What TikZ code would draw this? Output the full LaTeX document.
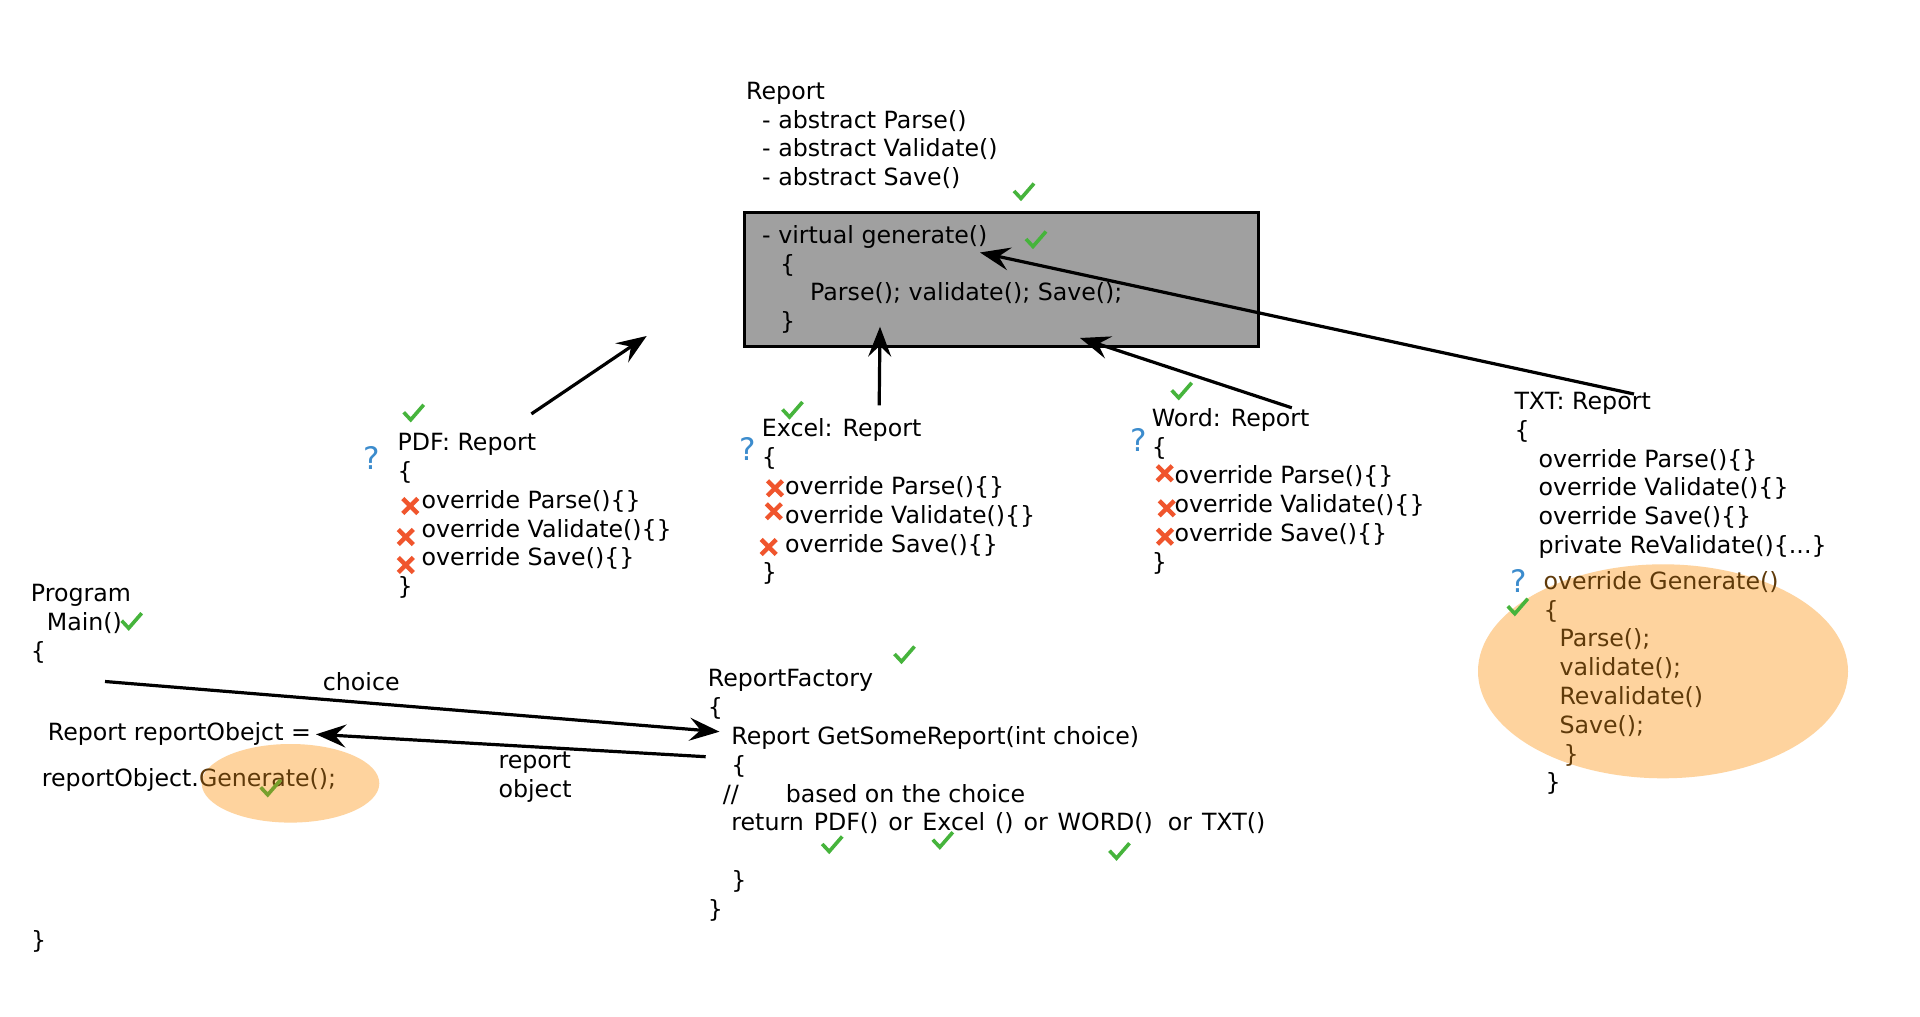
\documentclass[tikz,border=0pt]{standalone}
\usepackage{fontspec}
\setmainfont{DejaVu Sans}
\usetikzlibrary{arrows.meta,shapes.geometric}
\definecolor{chkgreen}{RGB}{70,180,60}
\definecolor{olivechk}{RGB}{120,160,45}
\definecolor{xred}{RGB}{240,85,45}
\definecolor{qblue}{RGB}{60,140,205}
\definecolor{peach}{RGB}{254,211,158}
\definecolor{codebrown}{RGB}{95,58,10}
\definecolor{boxgray}{RGB}{160,160,160}
\newcommand\codefont{\fontsize{23.7}{28.8}\selectfont}
\newcommand\ind[1]{\hspace*{#1pt}}
\begin{document}
\begin{tikzpicture}[x=1pt,y=-1pt,
  txt/.style={anchor=north west, inner sep=0pt, align=left, font=\codefont, yshift=20.16pt},
  qm/.style={anchor=base, inner sep=0pt, text=qblue, font=\fontsize{31}{33}\selectfont},
  peachell/.style={ellipse, fill=peach, draw=none, inner sep=0pt},
  basebox/.style={draw=black, line width=3.5pt, fill=boxgray, inner sep=0pt},
  conn/.style={line width=3.2pt, -{Stealth[length=30pt,width=23pt,inset=11pt]}},
  chk/.pic={\draw[chkgreen, line width=3.6pt] (-10,-1) -- (-3,6.5) -- (10,-8.5);},
  chko/.pic={\draw[olivechk, line width=3.6pt] (-10,-1) -- (-3,6.5) -- (10,-8.5);},
  crs/.pic={\draw[xred, line width=4.4pt] (-7.5,-7.5) -- (7.5,7.5) (-7.5,7.5) -- (7.5,-7.5);}
]
\path[use as bounding box, fill=white] (0,0) rectangle (1920,1017);

% backgrounds
\node[peachell, minimum width=370pt, minimum height=214pt] (txtell) at (1663,671.3) {};
\node[peachell, minimum width=177.6pt, minimum height=78.6pt] (genell) at (290.5,783.3) {};
\node[basebox, minimum width=514pt, minimum height=134pt] (box) at (1001.25,279.5) {};

% abstract Report
\node[txt] (rep) at (746,99) {\strut Report\\ \ind{16}- abstract Parse()\\ \ind{16}- abstract Validate()\\ \ind{16}- abstract Save()};
\node[txt] (virt) at (762,243) {\strut - virtual generate()\\ \ind{18}\{\\ \ind{48}Parse(); validate(); Save();\\ \ind{18}\}};

% subclasses
\node[txt] (pdf) at (397.5,450.5) {\strut PDF: Report\\ \{\\ \ind{24}override Parse()\{\}\\ \ind{24}override Validate()\{\}\\ \ind{24}override Save()\{\}\\ \}};
\node[txt] (xls) at (761.7,436.7) {\strut Excel: Report\\ \{\\ \ind{23.3}override Parse()\{\}\\ \ind{23.3}override Validate()\{\}\\ \ind{23.3}override Save()\{\}\\ \}};
\node[txt] (wrd) at (1151.7,426) {\strut Word: Report\\ \{\\ \ind{22.6}override Parse()\{\}\\ \ind{22.6}override Validate()\{\}\\ \ind{22.6}override Save()\{\}\\ \}};
\node[txt] (txtc) at (1514.3,409.3) {\strut TXT: Report\\ \{\\ \ind{24}override Parse()\{\}\\ \ind{24}override Validate()\{\}\\ \ind{24}override Save()\{\}\\ \ind{24}private ReValidate()\{...\}};
\node[txt, text=codebrown] (gen) at (1543.3,589) {\strut override Generate()\\ \{\\ \ind{16}Parse();\\ \ind{16}validate();\\ \ind{16}Revalidate()\\ \ind{16}Save();\\ \ind{20}\}\\ \ind{2}\textcolor{black}{\}}};

% program
\node[txt] (prog) at (30.7,601.7) {\strut Program\\ \ind{16}Main()\\ \{};
\node[txt] (assign) at (47.7,740) {\strut Report reportObejct =};
\node[txt] (call) at (41.7,786.7) {\strut reportObject.\textcolor{codebrown}{Generate();}};
\node[txt] (progend) at (31,948) {\strut\}};
\node[txt] (lchoice) at (322.7,690) {\strut choice};
\node[txt] (lobj) at (498.4,768) {\strut report\\object};

% factory
\node[txt] (fac) at (707.7,686.7) {\strut ReportFactory\\ \{\\ \ind{23.5}Report GetSomeReport(int choice)\\ \ind{23.5}\{\\ \ind{15}//\ind{47}based on the choice\\ \ind{23.5}{\spaceskip=9.9pt return PDF() or Excel () or WORD()\ind{5} or TXT()}\\[28.8pt] \ind{23.5}\}\\ \}};

% question marks
\node[qm] (qpdf) at (371.8,469.3) {?};
\node[qm] (qxls) at (747.5,460) {?};
\node[qm] (qwrd) at (1138.3,451.7) {?};
\node[qm] (qtxt) at (1519,592.7) {?};

% check marks
\pic at (1024,192) {chk};
\pic at (1036,240) {chk};
\pic at (413.7,413.3) {chk};
\pic at (792.5,410.5) {chk};
\pic at (1181.7,391.3) {chk};
\pic at (131.7,621.7) {chk};
\pic at (904.5,655) {chk};
\pic at (832.2,845) {chk};
\pic at (942.8,840.7) {chk};
\pic at (1119.5,851.7) {chk};
\pic at (1517.8,607.2) {chk};
\pic at (270.7,788.3) {chko};

% crosses
\pic at (410.3,506) {crs};
\pic at (405.8,537) {crs};
\pic at (405.8,565) {crs};
\pic at (775,488.3) {crs};
\pic at (773.8,511.3) {crs};
\pic at (768.7,547) {crs};
\pic at (1164.7,473.3) {crs};
\pic at (1166.7,508.3) {crs};
\pic at (1165,536.7) {crs};

% connector ends
\coordinate (pdfT) at (531.4,413.9);
\coordinate (pdfH) at (646.7,336);
\coordinate (xlsT) at (879.2,405.3);
\coordinate (xlsH) at (880,326.7);
\coordinate (wrdT) at (1291.8,407.8);
\coordinate (wrdH) at (1080,338);
\coordinate (txtT) at (1634,394);
\coordinate (txtH) at (980,252.5);
\coordinate (chT) at (105,681.5);
\coordinate (chH) at (719.5,731.7);
\coordinate (roT) at (705.7,756.7);
\coordinate (roH) at (316,734.3);

\draw[conn] (pdfT) -- (pdfH);
\draw[conn] (xlsT) -- (xlsH);
\draw[conn] (wrdT) -- (wrdH);
\draw[conn] (txtT) -- (txtH);
\draw[conn] (chT) -- (chH);
\draw[conn] (roT) -- (roH);
\end{tikzpicture}
\end{document}
